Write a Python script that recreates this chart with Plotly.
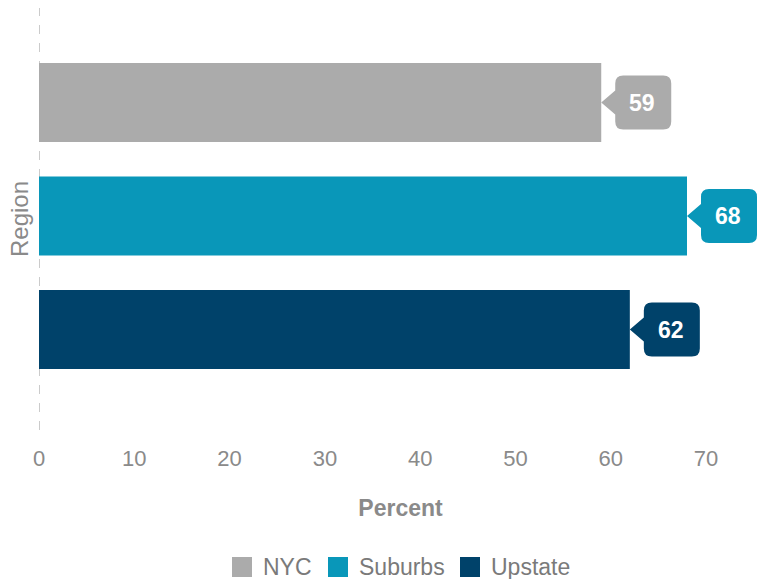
import plotly.graph_objects as go

regions = ["NYC", "Suburbs", "Upstate"]
percents = [59, 68, 62]
colors = ["#ABABAB", "#0997B9", "#00426A"]
x_ticks = [0, 10, 20, 30, 40, 50, 60, 70]

FONT = "Liberation Sans, Arial, Helvetica, sans-serif"
GRAY = "#8A8A8A"

W, H = 762, 579
ML, MR, MT, MB = 39, 0, 8, 149
PW, PH = W - ML - MR, H - MT - MB


def page2paper_x(px):
    return (px - ML) / PW


def page2paper_y(py):
    return (H - MB - py) / PH


fig = go.Figure()

for i, (r, v, c) in enumerate(zip(regions, percents, colors)):
    fig.add_trace(go.Bar(
        x=[v], y=[i], orientation="h", name=r,
        marker=dict(color=c, line=dict(width=0)),
        width=0.696, showlegend=False, hoverinfo="x+name",
    ))

# callout label shapes
callout = ("M0,0 L14,12 L14,19 Q14,27 22,27 L62,27 Q70,27 70,19 "
           "L70,-19 Q70,-27 62,-27 L22,-27 Q14,-27 14,-19 L14,-12 Z")
shapes = []
annotations = []
for i, (v, c) in enumerate(zip(percents, colors)):
    shapes.append(dict(
        type="path", xref="x", yref="y",
        xsizemode="pixel", ysizemode="pixel",
        xanchor=v, yanchor=i, path=callout,
        fillcolor=c, line=dict(width=0), layer="above",
    ))
    annotations.append(dict(
        x=v, y=i, xref="x", yref="y", xshift=41, showarrow=False,
        text=f"<b>{v}</b>", font=dict(family=FONT, size=23, color="white"),
        xanchor="center", yanchor="middle",
    ))

shapes.append(dict(
    type="line", xref="x", yref="paper", x0=0, x1=0, y0=0, y1=1,
    line=dict(color="#BBBBBB", width=1.5, dash="dash"), layer="below",
))

# custom legend (bigger squares than plotly's built-in legend)
legend_sq_left = [232, 328, 460]
legend_y = 567
for r, c, sx in zip(regions, colors, legend_sq_left):
    shapes.append(dict(
        type="rect", xref="paper", yref="paper",
        x0=page2paper_x(sx), x1=page2paper_x(sx + 20),
        y0=page2paper_y(legend_y + 10), y1=page2paper_y(legend_y - 10),
        fillcolor=c, line=dict(width=0),
    ))
    annotations.append(dict(
        x=page2paper_x(sx + 29), y=page2paper_y(legend_y), xref="paper", yref="paper",
        text=r, showarrow=False, xanchor="left", yanchor="middle",
        font=dict(family=FONT, size=23, color="#7A7A7A"),
    ))

fig.update_layout(
    width=W, height=H,
    margin=dict(l=ML, r=MR, t=MT, b=MB),
    paper_bgcolor="white", plot_bgcolor="white",
    barmode="overlay", showlegend=False,
    font=dict(family=FONT, color=GRAY),
    xaxis=dict(
        range=[0, 75.87], tickvals=x_ticks, showgrid=False, zeroline=False,
        showline=False, ticks="outside", ticklen=9, tickcolor="rgba(0,0,0,0)",
        tickfont=dict(size=22, color=GRAY), automargin=False,
        title=dict(text="<b>Percent</b>", font=dict(size=23, color=GRAY), standoff=29),
    ),
    yaxis=dict(
        range=[2.885, -0.833], showticklabels=False, showgrid=False,
        zeroline=False, showline=False, automargin=False,
        title=dict(text="Region", font=dict(size=24, color=GRAY), standoff=2),
    ),
    shapes=shapes, annotations=annotations,
)

fig.write_html(
    "out.html",
    config={"displayModeBar": False},
    post_script="document.body.style.margin='0';document.body.style.overflow='hidden';",
)
